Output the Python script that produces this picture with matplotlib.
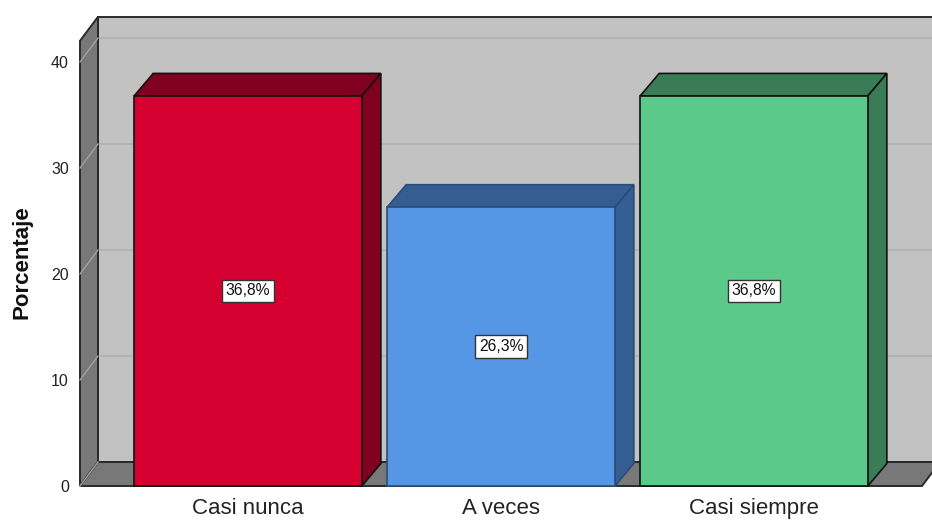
import matplotlib
matplotlib.use("Agg")
import matplotlib.pyplot as plt
from matplotlib.patches import Polygon, Rectangle

plt.rcParams['font.family'] = ['Liberation Sans', 'DejaVu Sans']

# Data
categories = ["Casi nunca", "A veces", "Casi siempre"]
percentages = [36.8, 26.3, 36.8]
y_ticks = [0, 10, 20, 30, 40]

# Styling
front_colors = ["#D50030", "#5596E5", "#5BC98A"]
shade_colors = ["#82001F", "#345E91", "#3A7C55"]
edge_colors = ["#111111", "#2B4C78", "#111111"]
wall_back = "#C2C2C2"
wall_side = "#787878"
grid_back = "#B2B2B2"
grid_side = "#A2A2A2"
outline = "#2A2A2A"

W, H, DPI = 932, 520, 100
fig = plt.figure(figsize=(W / DPI, H / DPI), dpi=DPI)
fig.patch.set_facecolor("white")

# Front plane of the 3D box (pixels from the left / from the top)
left_px, right_px, bottom_px, top_px = 80, 922, 486, 40.8
ax = fig.add_axes([left_px / W, 1 - bottom_px / H,
                   (right_px - left_px) / W, (bottom_px - top_px) / H])
ax.set_xlim(-0.664, 2.664)
ax.set_ylim(0, 42)
ax.patch.set_visible(False)
for s in ax.spines.values():
    s.set_visible(False)

fig.canvas.draw()

WALL_DX, WALL_DY = 18, 24      # depth of the walls, in pixels
BAR_DX, BAR_DY = 19, 22.5      # depth of the bars, in pixels


def back(x, y, dx, dy):
    """Data point shifted into depth by (dx, dy) display pixels."""
    px, py = ax.transData.transform((x, y))
    return tuple(ax.transData.inverted().transform((px + dx, py + dy)))


def poly(pts, fc, ec, lw, z):
    p = Polygon(pts, closed=True, facecolor=fc, edgecolor=ec, linewidth=lw,
                joinstyle="miter", clip_on=False, zorder=z)
    ax.add_patch(p)


x0, x1 = ax.get_xlim()
y0, y1 = ax.get_ylim()
d = (WALL_DX, WALL_DY)

# Back wall
poly([back(x0, y0, *d), back(x1, y0, *d), back(x1, y1, *d), back(x0, y1, *d)],
     wall_back, outline, 1.4, 1)
# Gridlines on the back wall
for t in y_ticks:
    bx, by = back(x0, t, *d)
    rx, _ = back(x1, t, *d)
    if t > 0:
        ax.plot([bx, rx], [by, by], color=grid_back, lw=1.3, zorder=1.5,
                clip_on=False)
# Left side wall with its diagonal gridlines
poly([(x0, y0), (x0, y1), back(x0, y1, *d), back(x0, y0, *d)],
     wall_side, outline, 1.4, 2)
for t in y_ticks:
    bx, by = back(x0, t, *d)
    ax.plot([x0, bx], [t, by], color=grid_side, lw=1.0, zorder=2.5,
            clip_on=False)
# Floor
poly([(x0, y0), (x1, y0), back(x1, y0, *d), back(x0, y0, *d)],
     wall_side, outline, 1.4, 3)
bx, by = back(x0, 0, *d)
ax.plot([x0, bx], [0, by], color=grid_side, lw=1.0, zorder=3.5, clip_on=False)

# Bars
bar_w = 0.9
bd = (BAR_DX, BAR_DY)
for i, (v, fc, sc, ec) in enumerate(zip(percentages, front_colors,
                                        shade_colors, edge_colors)):
    l, r = i - bar_w / 2, i + bar_w / 2
    # top face
    poly([(l, v), (r, v), back(r, v, *bd), back(l, v, *bd)], sc, ec, 1.2, 5)
    # right side face
    poly([(r, 0), (r, v), back(r, v, *bd), back(r, 0, *bd)], sc, ec, 1.2, 5)
    # front face
    ax.add_patch(Rectangle((l, 0), bar_w, v, facecolor=fc, edgecolor=ec,
                           linewidth=1.2, clip_on=False, zorder=6))
    label = f"{v:.1f}%".replace(".", ",")
    ax.text(i, v / 2, label, ha="center", va="center", fontsize=11.3,
            color="#111111", zorder=7,
            bbox=dict(boxstyle="square,pad=0.25", facecolor="white",
                      edgecolor="#333333", linewidth=1.0))

# Axes ticks and labels
ax.set_yticks(y_ticks)
ax.set_yticklabels([str(t) for t in y_ticks], fontsize=11.5, color="#222222")
ax.set_xticks(range(len(categories)))
ax.set_xticklabels(categories, fontsize=16, color="#222222")
for lab in ax.get_xticklabels():
    lab.set_verticalalignment("baseline")
ax.tick_params(axis="y", length=0, pad=8)
ax.tick_params(axis="x", length=0, pad=20.5)

fig.text(22 / W, 1 - 262 / H, "Porcentaje", rotation=90, ha="center",
         va="center", fontsize=16, fontweight="bold", color="#111111")

fig.savefig("out.png", dpi=DPI, facecolor="white")
